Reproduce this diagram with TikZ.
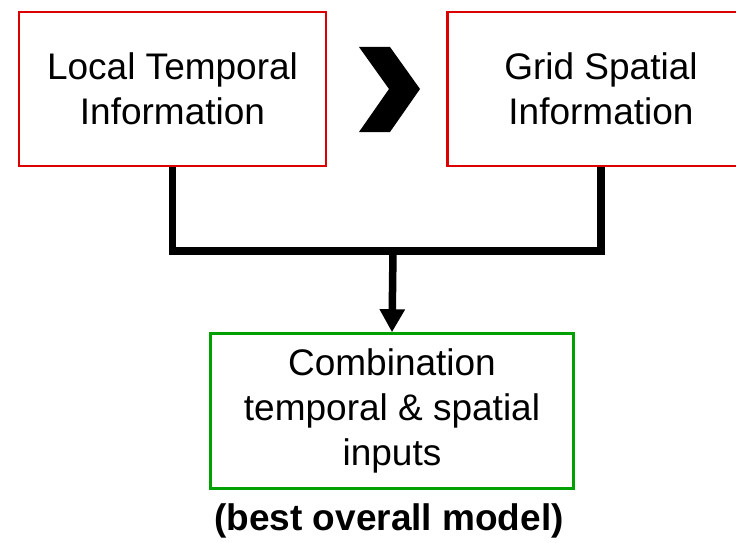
\documentclass[tikz,border=0pt]{standalone}
\usepackage{fontspec}
\setmainfont{Liberation Sans}
\usetikzlibrary{arrows.meta}
\definecolor{boxred}{RGB}{220,0,0}
\definecolor{boxgreen}{RGB}{0,160,0}
\tikzset{
	infobox/.style={draw=boxred, line width=2.5pt, minimum width=307pt, minimum height=154pt, align=center, font=\fontsize{37}{45}\selectfont},
	resultbox/.style={infobox, draw=boxgreen, minimum width=363pt, minimum height=155pt},
	wire/.style={line width=7.5pt}
}
\begin{document}
\begin{tikzpicture}[x=1pt, y=-1pt]
	\useasboundingbox (0, 0) rectangle (736, 543);
	% Boxes and labels:
	\node[infobox] (temporal) at (172.5, 89){Local Temporal\\Information};
	\node[infobox] (spatial) at (601, 89){Grid Spatial\\Information};
	\node[resultbox] (combined) at (392, 411){Combination\\temporal \& spatial\\inputs};
	\node[font=\fontsize{37}{42}\selectfont\bfseries] (best) at (389, 521){(best overall model)};
	% Chevron between the inputs:
	\fill (359, 47) -- (390, 47) -- (420, 89) -- (390, 132) -- (359, 132) -- (389, 89) -- cycle;
	% Wires:
	\coordinate (join) at (393, 251);
	\draw[wire] (temporal.south) |- (join) -| (spatial.south);
	\draw[wire, -{Triangle[width=24pt, length=23pt]}] (join) -- (combined.north);
\end{tikzpicture}
\end{document}
